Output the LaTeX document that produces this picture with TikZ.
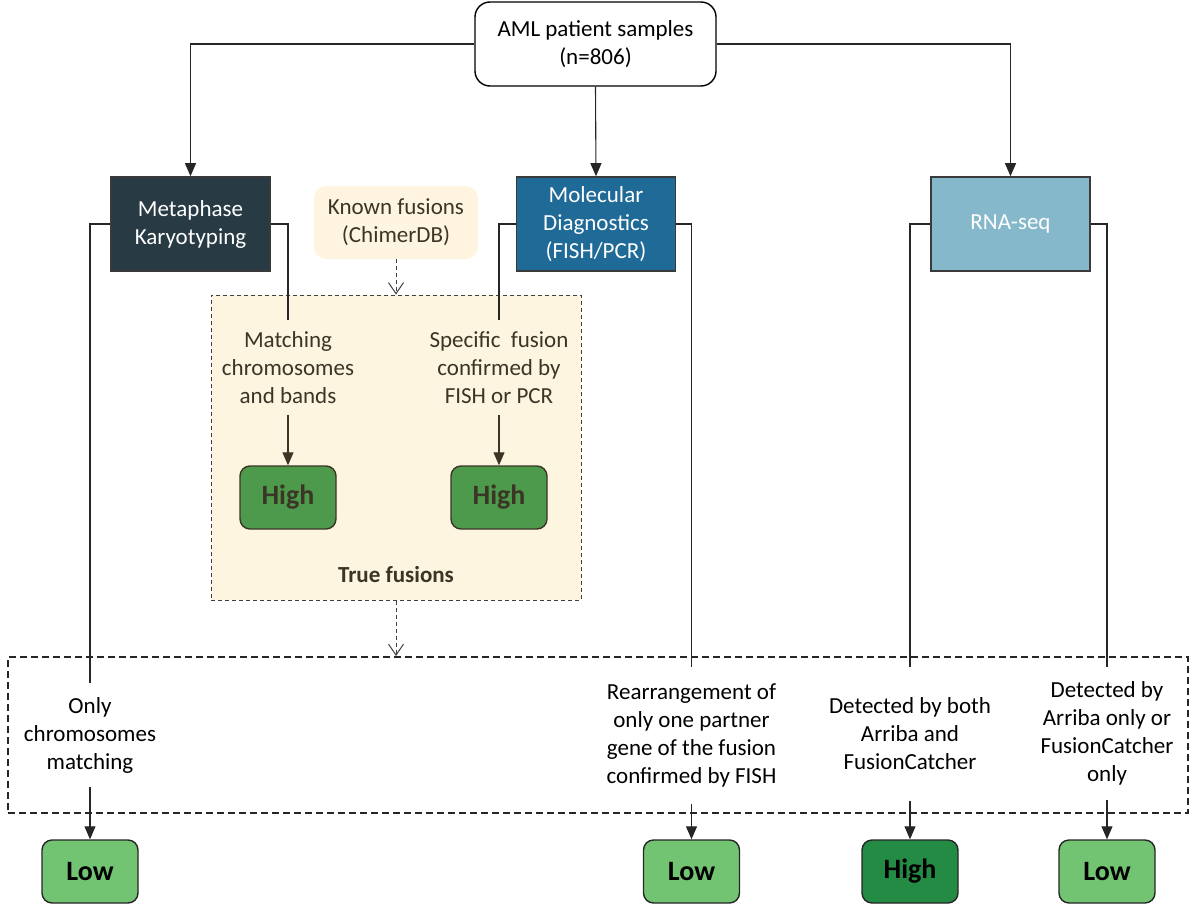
\documentclass[tikz,border=0pt]{standalone}
\usepackage{fontspec}
\setmainfont{Carlito}
\usetikzlibrary{arrows.meta}
\definecolor{metacol}{HTML}{283B44}
\definecolor{molcol}{HTML}{1F6A96}
\definecolor{rnacol}{HTML}{86B8CC}
\definecolor{knowncol}{HTML}{FEF4DF}
\definecolor{truecol}{HTML}{FEF5E1}
\definecolor{innertext}{HTML}{3B3526}
\definecolor{midgreen}{HTML}{4E9A4C}
\definecolor{darkgreen}{HTML}{248B45}
\definecolor{lightgreen}{HTML}{72C472}
\definecolor{boxborder}{HTML}{3A3A3A}
\begin{document}
\begin{tikzpicture}[x=1pt,y=-1pt,
  txt/.style={font=\fontsize{23}{28}\selectfont, align=center, inner sep=0pt},
  conn/.style={line width=1.1pt, draw=black!85},
  arrow/.style={conn, -{Triangle[length=13pt,width=11pt]}},
  innerarrow/.style={line width=1.1pt, draw=innertext, -{Triangle[length=13pt,width=11pt]}},
  dasharrow/.style={line width=1pt, draw=black!75, dash pattern=on 4pt off 3pt, -{Straight Barb[length=11pt,width=15pt]}},
  headbox/.style={txt, draw=boxborder, line width=1.6pt, minimum width=159pt, minimum height=94pt, text=white},
  grade/.style={rounded corners=10pt, draw=black!85, line width=1.4pt, minimum width=96pt, minimum height=63pt, inner sep=0pt, font=\fontsize{28}{30}\selectfont\bfseries},
  crit/.style={txt, minimum width=160pt}
]
\useasboundingbox (0,0) rectangle (1192,905);

% backgrounds
\node[draw=black!75, dash pattern=on 4pt off 3pt, line width=1pt, fill=truecol, minimum width=370pt, minimum height=305pt, inner sep=0pt] (true) at (396,447.5) {};
\node[draw=black!85, dash pattern=on 7pt off 4pt, line width=2pt, minimum width=1180pt, minimum height=156pt, inner sep=0pt] (cat) at (598,735) {};

% top
\node[txt, draw=black, rounded corners=15pt, line width=1.4pt, minimum width=241pt, minimum height=84pt] (aml) at (595.5,44) {AML patient samples\\(n=806)};
\node[headbox, fill=metacol] (meta) at (190.5,224) {Metaphase\\Karyotyping};
\node[headbox, fill=molcol] (mol) at (596,224) {Molecular\\Diagnostics\\(FISH/PCR)};
\node[headbox, fill=rnacol] (rna) at (1010.5,224) {RNA-seq};
\node[txt, fill=knowncol, rounded corners=12pt, minimum width=164pt, minimum height=73pt, text=innertext] (known) at (396,222.5) {Known fusions\\(ChimerDB)};

% true fusions content
\node[crit, text=innertext, minimum height=95pt] (match) at (288,367.5) {Matching\\chromosomes\\and bands};
\node[crit, text=innertext, minimum height=95pt] (spec) at (499,367.5) {Specific\ \ fusion\\confirmed by\\FISH or PCR};
\node[grade, fill=midgreen, text=innertext, draw=innertext] (hi1) at (288,497.5) {High};
\node[grade, fill=midgreen, text=innertext, draw=innertext] (hi2) at (499,497.5) {High};
\node[txt, font=\fontsize{23}{28}\selectfont\bfseries, text=innertext] (truelbl) at (396,575) {True fusions};

% bottom criteria
\node[crit, minimum height=104pt] (only) at (90,735) {Only\\chromosomes\\matching};
\node[crit, minimum height=137pt] (rearr) at (691.5,735.5) {Rearrangement of\\only one partner\\gene of the fusion\\confirmed by FISH};
\node[crit, minimum height=134pt] (both) at (910,734) {Detected by both\\Arriba and\\FusionCatcher};
\node[crit, minimum height=133pt] (single) at (1107,733.5) {Detected by\\Arriba only or\\FusionCatcher\\only};

% bottom grades
\node[grade, fill=lightgreen] (lo1) at (90,871.5) {Low};
\node[grade, fill=lightgreen] (lo2) at (691.5,871.5) {Low};
\node[grade, fill=darkgreen] (hi3) at (910,871.5) {High};
\node[grade, fill=lightgreen] (lo4) at (1107,871.5) {Low};

% connectors
\draw[arrow] (aml.west) -| (meta.north);
\draw[arrow] (aml.east) -| (rna.north);
\draw[arrow] (aml.south) -- (mol.north);
\draw[conn] (meta.west) -| (only.north);
\draw[conn] (meta.east) -| (match.north);
\draw[conn] (mol.west) -| (spec.north);
\draw[conn] (mol.east) -| (rearr.north);
\draw[conn] (rna.west) -| (both.north);
\draw[conn] (rna.east) -| (single.north);
\draw[innerarrow] (match.south) -- (hi1.north);
\draw[innerarrow] (spec.south) -- (hi2.north);
\draw[arrow] (only.south) -- (lo1.north);
\draw[arrow] (rearr.south) -- (lo2.north);
\draw[arrow] (both.south) -- (hi3.north);
\draw[arrow] (single.south) -- (lo4.north);
\draw[dasharrow] (known.south) -- (true.north);
\draw[dasharrow] (true.south) -- (true.south |- cat.north);
\end{tikzpicture}
\end{document}
